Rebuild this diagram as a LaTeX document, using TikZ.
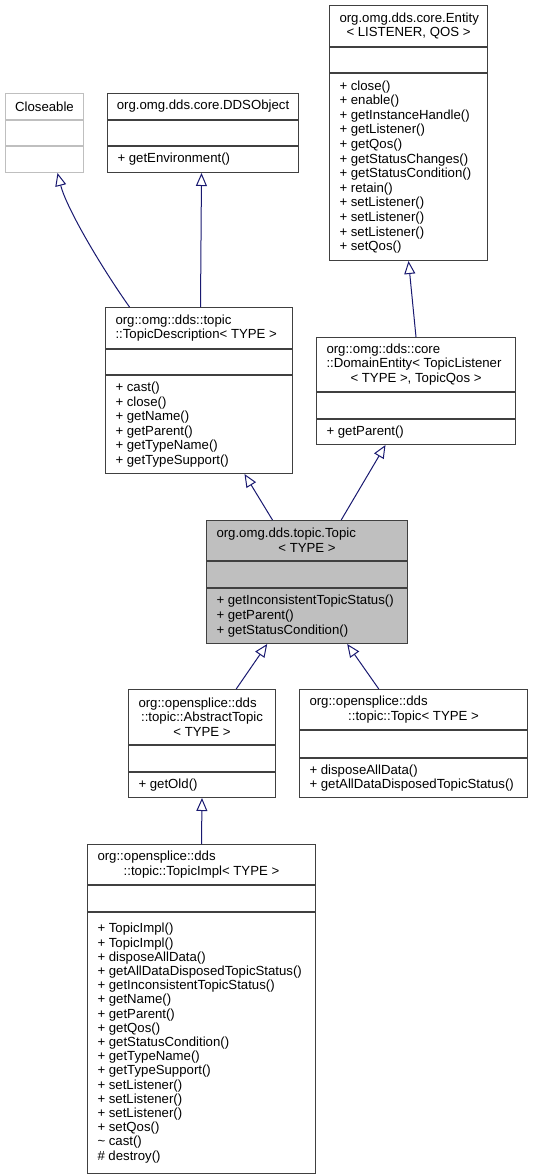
\documentclass[tikz,border=0pt]{standalone}
\usepackage{fontspec}
\setmainfont{Liberation Sans}
\usetikzlibrary{positioning,arrows.meta}

\definecolor{edgeblue}{HTML}{191970}
\definecolor{boxline}{HTML}{404040}
\definecolor{boxgray}{HTML}{BFBFBF}

\tikzset{
	classhead/.style={draw=boxline, line width=1pt, anchor=north west, inner xsep=10pt, inner ysep=1pt,
		align=flush left, font=\fontsize{13.2}{14.6}\selectfont},
	classattr/.style={draw=boxline, line width=1pt, inner sep=0pt, below=0pt of #1},
	classops/.style={draw=boxline, line width=1pt, inner xsep=10pt, inner ysep=1pt, below=0pt of #1,
		align=flush left, font=\fontsize{13.2}{14.6}\selectfont},
	inherit/.style={draw=edgeblue, line width=1pt, -{Triangle[open, length=13pt, width=11pt]}}
}
\newcommand{\ctr}[1]{\makebox[\linewidth]{#1}}

\begin{document}
\begin{tikzpicture}[x=1pt, y=-1pt]
	\useasboundingbox (0,0) rectangle (533,1176);

	\node[classhead, draw=boxgray, minimum width=78pt, text width=58pt, minimum height=26pt] (closeable) at (5,93) {\ctr{Closeable}};
	\node[classattr=closeable, draw=boxgray, minimum width=78pt, minimum height=25pt] (closeable-a) {};
	\node[classattr=closeable-a, draw=boxgray, minimum width=78pt, minimum height=26pt] (closeable-o) {};

	\node[classhead, minimum width=191pt, text width=171pt, minimum height=26pt] (ddsobj) at (107,93) {\ctr{org.omg.dds.core.DDSObject}};
	\node[classattr=ddsobj, minimum width=191pt, minimum height=25pt] (ddsobj-a) {};
	\node[classops=ddsobj-a, text width=171pt, minimum height=26pt] (ddsobj-o) {+ getEnvironment()};

	\node[classhead, minimum width=158pt, text width=138pt, minimum height=41pt] (entity) at (329,5) {org.omg.dds.core.Entity\\\ctr{< LISTENER, QOS >}};
	\node[classattr=entity, minimum width=158pt, minimum height=25pt] (entity-a) {};
	\node[classops=entity-a, text width=138pt, minimum height=187pt] (entity-o) {+ close()\\+ enable()\\+ getInstanceHandle()\\+ getListener()\\+ getQos()\\+ getStatusChanges()\\+ getStatusCondition()\\+ retain()\\+ setListener()\\+ setListener()\\+ setListener()\\+ setQos()};

	\node[classhead, minimum width=187pt, text width=167pt, minimum height=41pt] (tdesc) at (105,307) {org::omg::dds::topic\\::TopicDescription< TYPE >};
	\node[classattr=tdesc, minimum width=187pt, minimum height=25pt] (tdesc-a) {};
	\node[classops=tdesc-a, text width=167pt, minimum height=98pt] (tdesc-o) {+ cast()\\+ close()\\+ getName()\\+ getParent()\\+ getTypeName()\\+ getTypeSupport()};

	\node[classhead, minimum width=199pt, text width=179pt, minimum height=54pt] (domentity) at (316,337) {org::omg::dds::core\\::DomainEntity< TopicListener\\\ctr{< TYPE >, TopicQos >}};
	\node[classattr=domentity, minimum width=199pt, minimum height=26pt] (domentity-a) {};
	\node[classops=domentity-a, text width=179pt, minimum height=25pt] (domentity-o) {+ getParent()};

	\node[classhead, fill=boxgray, minimum width=201pt, text width=181pt, minimum height=40pt] (topic) at (206,520) {org.omg.dds.topic.Topic\\\ctr{< TYPE >}};
	\node[classattr=topic, fill=boxgray, minimum width=201pt, minimum height=26pt] (topic-a) {};
	\node[classops=topic-a, fill=boxgray, text width=181pt, minimum height=55pt] (topic-o) {+ getInconsistentTopicStatus()\\+ getParent()\\+ getStatusCondition()};

	\node[classhead, minimum width=147pt, text width=127pt, minimum height=55pt] (abstopic) at (128,689) {org::opensplice::dds\\\ctr{::topic::AbstractTopic}\\\ctr{< TYPE >}};
	\node[classattr=abstopic, minimum width=147pt, minimum height=26pt] (abstopic-a) {};
	\node[classops=abstopic-a, text width=127pt, minimum height=25pt] (abstopic-o) {+ getOld()};

	\node[classhead, minimum width=228pt, text width=208pt, minimum height=40pt] (ostopic) at (299,689) {org::opensplice::dds\\\ctr{::topic::Topic< TYPE >}};
	\node[classattr=ostopic, minimum width=228pt, minimum height=27pt] (ostopic-a) {};
	\node[classops=ostopic-a, text width=208pt, minimum height=39pt] (ostopic-o) {+ disposeAllData()\\+ getAllDataDisposedTopicStatus()};

	\node[classhead, minimum width=228pt, text width=208pt, minimum height=40pt] (topicimpl) at (87,844) {org::opensplice::dds\\\ctr{::topic::TopicImpl< TYPE >}};
	\node[classattr=topicimpl, minimum width=228pt, minimum height=26pt] (topicimpl-a) {};
	\node[classops=topicimpl-a, text width=208pt, minimum height=261pt, font=\fontsize{13.2}{14.2}\selectfont] (topicimpl-o) {+ TopicImpl()\\+ TopicImpl()\\+ disposeAllData()\\+ getAllDataDisposedTopicStatus()\\+ getInconsistentTopicStatus()\\+ getName()\\+ getParent()\\+ getQos()\\+ getStatusCondition()\\+ getTypeName()\\+ getTypeSupport()\\+ setListener()\\+ setListener()\\+ setListener()\\+ setQos()\\\textasciitilde{} cast()\\\# destroy()};

	\draw[inherit] ([xshift=-69.5pt]tdesc.north) .. controls +(-29,-41) and +(9,35) .. ([xshift=13pt]closeable-o.south);
	\draw[inherit] ([xshift=1.5pt]tdesc.north) -- ([xshift=-1.5pt]ddsobj-o.south);
	\draw[inherit] (domentity.north) -- (entity-o.south);
	\draw[inherit] ([xshift=-34.5pt]topic.north) -- ([xshift=45.5pt]tdesc-o.south);
	\draw[inherit] ([xshift=34.2pt]topic.north) -- ([xshift=-30.5pt]domentity-o.south);
	\draw[inherit] ([xshift=34.2pt]abstopic.north) -- ([xshift=-39.8pt]topic-o.south);
	\draw[inherit] ([xshift=-34.7pt]ostopic.north) -- ([xshift=40.2pt]topic-o.south);
	\draw[inherit] (topicimpl.north) -- (abstopic-o.south);

\end{tikzpicture}
\end{document}
